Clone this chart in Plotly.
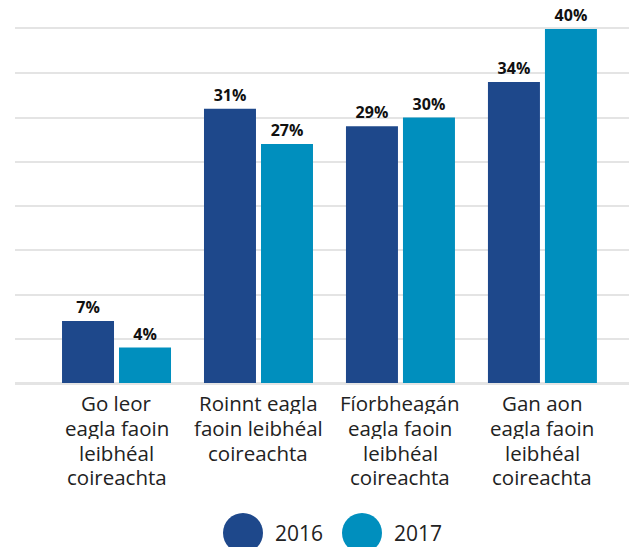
import plotly.graph_objects as go

categories = [
    "Go leor<br>eagla faoin<br>leibhéal<br>coireachta",
    "Roinnt eagla<br>faoin leibhéal<br>coireachta",
    "Fíorbheagán<br>eagla faoin<br>leibhéal<br>coireachta",
    "Gan aon<br>eagla faoin<br>leibhéal<br>coireachta",
]
values_2016 = [7, 31, 29, 34]
values_2017 = [4, 27, 30, 40]
series_names = ["2016", "2017"]
colors = ["#1e488b", "#008fbe"]

W, H = 637, 547
# page body has an 8px margin; compensate so marks land where the reference has them
ml, mr, mt, mb = 7, 8, 21, 172
pw, ph = W - ml - mr, H - mt - mb

fig = go.Figure()
for name, vals, col in zip(series_names, [values_2016, values_2017], colors):
    fig.add_trace(go.Bar(
        x=categories, y=vals, name=name,
        marker=dict(color=col, line=dict(width=0)),
        text=[f"{v}%" for v in vals], textposition="outside",
        textfont=dict(family="Open Sans", size=16, color="#111111", weight="bold"),
        cliponaxis=False, showlegend=False,
    ))

# category labels, line by line (tighter line spacing than plotly tick labels)
for cat in categories:
    for i, line in enumerate(cat.split("<br>")):
        fig.add_annotation(x=cat, y=0, xref="x", yref="y", text=line,
                           showarrow=False, xanchor="center", yanchor="middle",
                           yshift=-(20 + i * 24.8), height=22,
                           font=dict(family="Open Sans", size=20.5, color="#222222"))

# custom legend with large circles
leg_x = [235, 354]
for name, col, cx in zip(series_names, colors, leg_x):
    r = 20
    cy = 525
    fig.add_shape(type="circle", xref="paper", yref="paper",
                  x0=(cx - r - ml) / pw, x1=(cx + r - ml) / pw,
                  y0=(H - mb - (cy + r)) / ph, y1=(H - mb - (cy - r)) / ph,
                  fillcolor=col, line=dict(width=0))
    fig.add_annotation(xref="paper", yref="paper",
                       x=(cx + 30 - ml) / pw, y=(H - mb - cy) / ph,
                       text=name, showarrow=False, xanchor="left", yanchor="middle",
                       font=dict(family="Open Sans", size=21, color="#222222"))

fig.update_layout(
    width=W, height=H,
    margin=dict(l=ml, r=mr, t=mt, b=mb),
    paper_bgcolor="white", plot_bgcolor="white",
    barmode="group", bargap=0.197, bargroupgap=0.088,
    font=dict(family="Open Sans", color="#222222"),
    xaxis=dict(range=[-0.715, 3.666], showgrid=False, ticks="",
               showline=True, mirror=True, linecolor="#e4e4e4", linewidth=2,
               showticklabels=False, zeroline=False),
    yaxis=dict(range=[0, 40], tick0=0, dtick=5, showgrid=True, gridcolor="#e4e4e4", gridwidth=2,
               showticklabels=False, zeroline=True, zerolinecolor="#e4e4e4", zerolinewidth=2,
               showline=False),
)

fig.write_html("out.html")
